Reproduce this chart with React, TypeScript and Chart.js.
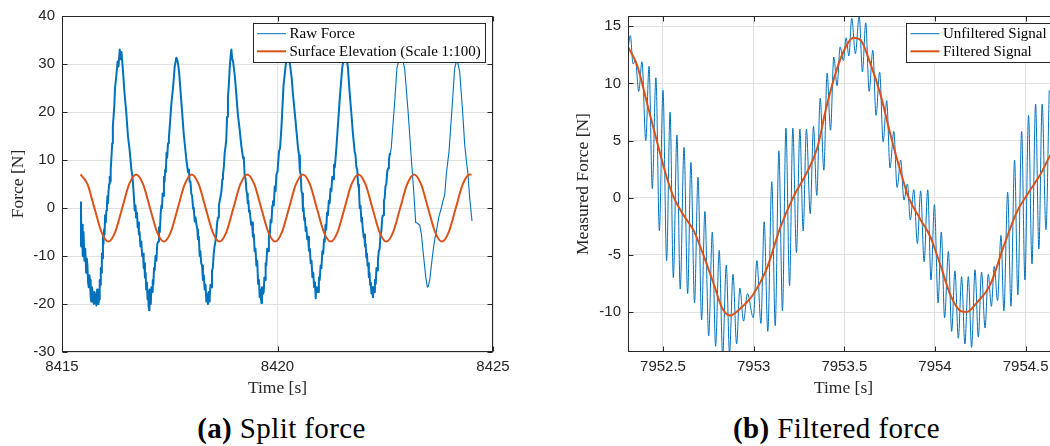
import React, { useEffect, useRef } from 'react';
import { Chart, registerables } from 'chart.js';

Chart.register(...registerables);

// ---------- (a) Split force ----------
const rawTime = [
  // start -> first trough
  8415.430, 8415.440, 8415.450, 8415.465, 8415.480, 8415.500, 8415.520, 8415.540, 8415.560, 8415.575,
  8415.590, 8415.605, 8415.620, 8415.635, 8415.650, 8415.665, 8415.680, 8415.695, 8415.710, 8415.725,
  8415.740, 8415.755, 8415.770, 8415.785, 8415.800, 8415.815, 8415.830, 8415.845, 8415.860, 8415.870,
  8415.880,
  // rise 1
  8415.890, 8415.900, 8415.912, 8415.925, 8415.937, 8415.950, 8415.962, 8415.975, 8415.987, 8416.000,
  8416.015, 8416.030, 8416.042, 8416.055, 8416.067, 8416.080, 8416.093, 8416.107, 8416.120, 8416.130,
  8416.150, 8416.165, 8416.180, 8416.200, 8416.215, 8416.230, 8416.260, 8416.290, 8416.310, 8416.340,
  8416.360, 8416.380,
  // fall 1, rise 2
  8416.415, 8416.450, 8416.490, 8416.530, 8416.570, 8416.610, 8416.635, 8416.660, 8416.687, 8416.705,
  8416.720, 8416.740, 8416.755, 8416.770, 8416.785, 8416.800, 8416.820, 8416.840, 8416.860, 8416.880,
  8416.895, 8416.910, 8416.925, 8416.940, 8416.955, 8416.970, 8416.985, 8417.000, 8417.010, 8417.020,
  8417.030, 8417.045, 8417.060, 8417.075, 8417.090, 8417.105, 8417.120, 8417.135, 8417.150, 8417.170,
  8417.190, 8417.210, 8417.230, 8417.250, 8417.270, 8417.290, 8417.306, 8417.320, 8417.335, 8417.350,
  8417.365, 8417.380, 8417.395, 8417.410, 8417.425, 8417.440, 8417.460, 8417.480, 8417.500, 8417.540,
  8417.576, 8417.615, 8417.654, 8417.685, 8417.715,
  // fall 2, rise 3
  8417.770, 8417.824, 8417.886, 8417.924, 8417.945, 8417.960, 8417.980, 8418.000, 8418.020, 8418.040,
  8418.060, 8418.080, 8418.100, 8418.120, 8418.140, 8418.155, 8418.175, 8418.195, 8418.210, 8418.230,
  8418.250, 8418.270, 8418.290, 8418.310, 8418.330, 8418.350, 8418.370, 8418.387, 8418.400, 8418.415,
  8418.427, 8418.445, 8418.460, 8418.480, 8418.500, 8418.520, 8418.540, 8418.560, 8418.580, 8418.600,
  8418.620, 8418.640, 8418.660, 8418.680, 8418.700, 8418.720, 8418.735, 8418.755, 8418.775, 8418.790,
  8418.810, 8418.830, 8418.850, 8418.870, 8418.890, 8418.910, 8418.930, 8418.950, 8418.970,
  // fall 3, rise 4
  8419.010, 8419.046, 8419.080, 8419.120, 8419.160, 8419.200, 8419.220, 8419.240, 8419.260, 8419.280,
  8419.295, 8419.310, 8419.325, 8419.340, 8419.355, 8419.370, 8419.390, 8419.410, 8419.430, 8419.450,
  8419.470, 8419.490, 8419.510, 8419.530, 8419.550, 8419.570, 8419.587, 8419.600, 8419.626, 8419.640,
  8419.655, 8419.680, 8419.695, 8419.710, 8419.725, 8419.740, 8419.760, 8419.780, 8419.800, 8419.820,
  8419.840, 8419.860, 8419.880, 8419.895, 8419.915, 8419.935, 8419.955, 8419.975, 8420.000, 8420.035,
  8420.060, 8420.090, 8420.140, 8420.200, 8420.250,
  // fall 4, rise 5
  8420.296, 8420.330, 8420.360, 8420.420, 8420.476, 8420.500, 8420.520, 8420.540, 8420.555, 8420.575,
  8420.590, 8420.605, 8420.620, 8420.635, 8420.654, 8420.670, 8420.690, 8420.710, 8420.730, 8420.750,
  8420.770, 8420.790, 8420.810, 8420.830, 8420.850, 8420.870, 8420.886, 8420.900, 8420.915, 8420.940,
  8420.960, 8420.980, 8421.000, 8421.020, 8421.040, 8421.060, 8421.080, 8421.095, 8421.115, 8421.130,
  8421.150, 8421.170, 8421.190, 8421.210, 8421.230, 8421.250, 8421.270, 8421.290, 8421.310, 8421.330,
  8421.366, 8421.400, 8421.440, 8421.500, 8421.560,
  // fall 5, rise 6
  8421.600, 8421.636, 8421.670, 8421.710, 8421.750, 8421.790, 8421.810, 8421.830, 8421.850, 8421.870,
  8421.890, 8421.907, 8421.925, 8421.947, 8421.960, 8421.975, 8422.000, 8422.015, 8422.030, 8422.045,
  8422.060, 8422.075, 8422.090, 8422.105, 8422.120, 8422.135, 8422.150, 8422.165, 8422.180, 8422.200,
  8422.215, 8422.230, 8422.245, 8422.260, 8422.280, 8422.295, 8422.310, 8422.330, 8422.350, 8422.370,
  8422.390, 8422.410, 8422.430, 8422.450, 8422.470, 8422.487, 8422.505, 8422.525, 8422.545, 8422.565,
  8422.585, 8422.600, 8422.620,
  // clean tail
  8422.640, 8422.680, 8422.720, 8422.770, 8422.840, 8422.900, 8422.950, 8423.030, 8423.107, 8423.160,
  8423.206, 8423.250, 8423.300, 8423.340, 8423.376, 8423.410, 8423.440, 8423.478, 8423.500, 8423.530,
  8423.570, 8423.610, 8423.650, 8423.687, 8423.740, 8423.800, 8423.840, 8423.880, 8423.920, 8423.980,
  8424.020, 8424.060, 8424.110, 8424.165, 8424.227, 8424.290, 8424.343, 8424.380, 8424.420, 8424.459,
  8424.513,
];
const rawForce = [
  // start -> first trough
  -8.0, 1.2, -7.5, -3.5, -10.0, -5.0, -11.0, -8.5, -13.5, -10.5,
  -12.0, -15.5, -16.5, -14.0, -15.0, -18.5, -19.5, -16.5, -17.5, -19.5,
  -20.0, -17.5, -18.0, -19.8, -20.3, -17.0, -17.5, -20.0, -19.0, -16.5,
  -15.0,
  // rise 1
  -16.0, -12.5, -13.5, -9.5, -10.5, -6.0, -7.5, -4.5, -5.5, -1.5,
  -3.0, -0.5, 0.5, 2.5, 1.0, 3.5, 5.0, 6.5, 5.5, 8.0,
  11.0, 13.5, 17.0, 19.5, 21.5, 25.0, 27.5, 30.5, 29.5, 33.0,
  31.0, 32.5,
  // fall 1, rise 2
  28.5, 24.0, 20.0, 15.0, 12.0, 8.0, 6.5, 3.5, -0.5, 0.5,
  -2.0, -1.0, -4.0, -3.0, -5.5, -5.0, -8.0, -7.0, -10.0, -9.5,
  -12.5, -11.5, -14.5, -13.5, -17.0, -15.5, -19.0, -17.5, -20.5, -21.3,
  -17.0, -19.5, -20.0, -16.5, -17.5, -15.0, -16.0, -12.5, -13.0, -10.0,
  -11.0, -7.5, -7.0, -4.0, -5.0, -1.0, 0.5, 0.0, 3.0, 2.5,
  6.5, 5.5, 8.0, 7.5, 11.5, 10.5, 13.5, 14.5, 17.0, 22.0,
  25.0, 29.5, 31.3, 30.5, 28.5,
  // fall 2, rise 3
  22.0, 15.5, 10.0, 7.5, 8.0, 5.5, 5.5, 3.0, 2.5, 0.0,
  -0.5, -2.8, -2.0, -3.5, -4.5, -6.5, -6.0, -10.0, -9.0, -11.5,
  -12.0, -15.0, -14.0, -17.0, -16.0, -19.5, -18.0, -20.0, -17.5, -19.5,
  -18.5, -16.0, -16.5, -13.0, -12.5, -9.5, -8.0, -7.0, -5.5, -3.0,
  -2.0, 0.5, 1.5, 2.5, 3.5, 6.0, 7.0, 8.5, 11.5, 12.5,
  14.0, 19.0, 23.0, 25.5, 29.0, 31.5, 33.0, 31.0, 30.5,
  // fall 3, rise 4
  27.5, 23.5, 19.5, 16.5, 13.0, 10.5, 10.0, 6.5, 6.0, 3.5,
  3.0, 1.0, 1.5, -0.8, -0.5, -2.0, -3.5, -3.0, -6.0, -5.5,
  -9.0, -8.5, -12.0, -11.0, -15.8, -15.0, -18.6, -17.0, -19.8, -16.5,
  -18.0, -17.5, -14.5, -15.0, -11.5, -12.0, -8.5, -9.0, -5.5, -6.0,
  -2.5, -3.0, 0.5, 1.4, 0.5, 4.5, 3.5, 7.0, 7.5, 11.8,
  12.5, 16.6, 25.6, 30.5, 32.0,
  // fall 4, rise 5
  29.5, 27.0, 23.6, 18.0, 12.5, 11.0, 7.5, 7.0, 3.5, 3.0,
  -0.6, 0.0, -2.5, -2.0, -4.8, -4.0, -6.5, -6.0, -8.9, -8.5,
  -11.5, -11.0, -14.4, -13.5, -16.5, -15.5, -18.8, -16.5, -17.5, -17.5,
  -14.5, -15.0, -12.0, -12.5, -9.0, -9.5, -6.5, -7.0, -3.5, -4.5,
  -1.0, -1.5, 1.5, 1.0, 4.0, 3.5, 6.5, 6.0, 9.0, 8.5,
  12.5, 17.0, 22.2, 29.1, 32.5,
  // fall 5, rise 6
  31.5, 29.1, 24.5, 20.1, 15.5, 11.8, 11.0, 8.5, 8.0, 4.9,
  4.0, 0.0, 0.5, -2.8, -2.0, -4.0, -6.1, -5.5, -8.0, -7.5,
  -10.3, -9.5, -12.0, -11.5, -14.4, -13.5, -16.0, -15.5, -17.8, -16.5,
  -18.6, -16.5, -17.5, -15.0, -15.8, -12.5, -13.0, -11.0, -9.0, -8.5,
  -5.5, -4.8, -2.0, -1.5, 1.5, 2.1, 4.5, 5.0, 7.5, 8.3,
  10.0, 11.0, 11.5,
  // clean tail
  12.5, 17.5, 22.2, 29.1, 32.0, 31.0, 29.1, 20.1, 10.0, 3.5,
  -3.0, -3.2, -3.6, -5.5, -8.9, -11.8, -14.4, -16.5, -16.3, -15.1,
  -12.0, -8.9, -6.5, -4.8, -2.0, 0.0, 1.5, 2.8, 7.3, 11.8,
  17.0, 22.2, 29.1, 31.0, 28.4, 20.8, 13.2, 10.0, 7.0, 2.1,
  -2.7,
];
const NOISY_UNTIL = 8422.62;

const elevTime = [
  8415.430, 8415.591, 8415.752, 8415.914, 8416.075, 8416.236, 8416.397, 8416.559,
  8416.720, 8416.881, 8417.042, 8417.204, 8417.365, 8417.526, 8417.687, 8417.849,
  8418.010, 8418.171, 8418.332, 8418.494, 8418.655, 8418.816, 8418.977, 8419.139,
  8419.300, 8419.461, 8419.622, 8419.784, 8419.945, 8420.106, 8420.267, 8420.429,
  8420.590, 8420.751, 8420.912, 8421.074, 8421.235, 8421.396, 8421.557, 8421.719,
  8421.880, 8422.041, 8422.202, 8422.364, 8422.525, 8422.686, 8422.847, 8423.009,
  8423.170, 8423.331, 8423.492, 8423.654, 8423.815, 8423.976, 8424.137, 8424.299,
  8424.460, 8424.500,
];
const elevation = [
  7, 4.95, 0, -4.95, -7, -4.95, 0, 4.95,
  7, 4.95, 0, -4.95, -7, -4.95, 0, 4.95,
  7, 4.95, 0, -4.95, -7, -4.95, 0, 4.95,
  7, 4.95, 0, -4.95, -7, -4.95, 0, 4.95,
  7, 4.95, 0, -4.95, -7, -4.95, 0, 4.95,
  7, 4.95, 0, -4.95, -7, -4.95, 0, 4.95,
  7, 4.95, 0, -4.95, -7, -4.95, 0, 4.95,
  7, 6.95,
];
const xTicksA = [8415, 8420, 8425];
const yTicksA = [-30, -20, -10, 0, 10, 20, 30, 40];

// ---------- (b) Filtered force ----------
const unfTime = [
  7952.307, 7952.320, 7952.335, 7952.348, 7952.366, 7952.384, 7952.405, 7952.423, 7952.441, 7952.461,
  7952.480, 7952.500, 7952.520, 7952.539, 7952.557, 7952.577, 7952.595, 7952.616, 7952.636, 7952.654,
  7952.674, 7952.693, 7952.713, 7952.731, 7952.752, 7952.772, 7952.790, 7952.810, 7952.829, 7952.849,
  7952.867, 7952.886, 7952.906, 7952.924, 7952.944, 7952.966, 7952.998, 7953.018, 7953.040, 7953.058,
  7953.078, 7953.100, 7953.119, 7953.139, 7953.159, 7953.178, 7953.198, 7953.216, 7953.236, 7953.255,
  7953.273, 7953.291, 7953.312, 7953.330, 7953.348, 7953.367, 7953.387, 7953.405, 7953.424, 7953.442,
  7953.460, 7953.477, 7953.495, 7953.510, 7953.525, 7953.541, 7953.561, 7953.582, 7953.600, 7953.618,
  7953.637, 7953.657, 7953.675, 7953.695, 7953.714, 7953.734, 7953.752, 7953.773, 7953.791, 7953.811,
  7953.829, 7953.848, 7953.864, 7953.883, 7953.903, 7953.921, 7953.940, 7953.960, 7953.978, 7953.997,
  7954.017, 7954.035, 7954.053, 7954.074, 7954.092, 7954.110, 7954.129, 7954.147, 7954.165, 7954.184,
  7954.202, 7954.221, 7954.239, 7954.257, 7954.276, 7954.294, 7954.311, 7954.327, 7954.345, 7954.364,
  7954.380, 7954.401, 7954.419, 7954.439, 7954.457, 7954.478, 7954.496, 7954.516, 7954.535, 7954.555,
  7954.573, 7954.591, 7954.612, 7954.630,
];
const unfiltered = [
  13.0, 14.2, 11.7, 12.0, 9.3, 11.9, 5.0, 11.5, 0.8, 10.5,
  -2.9, 9.4, -5.5, 7.5, -7.0, 5.5, -8.0, 4.4, -8.4, 3.1,
  -9.2, 1.8, -10.7, -1.2, -12.1, -3.0, -13.0, -4.6, -13.8, -5.9,
  -13.6, -6.7, -12.8, -7.9, -10.8, -8.4, -10.5, -5.5, -11.0, -2.1,
  -11.7, 1.4, -11.2, 4.1, -9.9, 6.1, -7.7, 6.1, -4.8, 6.0,
  -2.9, 6.0, -1.4, 6.25, 0.2, 8.7, 2.4, 10.9, 5.9, 12.3,
  9.8, 13.2, 12.0, 14.0, 12.4, 15.7, 12.6, 15.9, 11.0, 15.3,
  9.3, 12.9, 7.2, 11.0, 4.9, 8.5, 2.6, 5.8, 0.9, 3.3,
  -0.2, 1.2, -1.95, 0.7, -4.0, 0.6, -5.6, 0.7, -7.2, -0.6,
  -9.2, -3.0, -10.5, -4.7, -11.7, -6.4, -12.3, -6.9, -12.8, -6.9,
  -13.1, -6.3, -12.2, -6.5, -11.4, -6.7, -9.5, -6.0, -9.0, -3.3,
  -9.9, 0.5, -9.5, 3.3, -8.5, 5.8, -7.2, 7.2, -5.8, 8.2,
  -4.5, 8.2, -2.8, 9.4,
];
const filtTime = [
  7952.307, 7952.357, 7952.410, 7952.467, 7952.522, 7952.560, 7952.610, 7952.670, 7952.720, 7952.780,
  7952.825, 7952.870, 7952.926, 7953.000, 7953.070, 7953.147, 7953.220, 7953.290, 7953.350, 7953.400,
  7953.460, 7953.515, 7953.550, 7953.590, 7953.640, 7953.700, 7953.750, 7953.810, 7953.855, 7953.920,
  7953.974, 7954.030, 7954.085, 7954.140, 7954.176, 7954.230, 7954.305, 7954.380, 7954.450, 7954.510,
  7954.580, 7954.640, 7954.684,
];
const filtered = [
  13.2, 11.6, 8.4, 4.9, 1.7, 0.0, -1.45, -2.9, -4.9, -7.55,
  -9.6, -10.3, -9.7, -8.4, -6.3, -2.6, 0.1, 2.1, 4.3, 7.85,
  11.3, 13.4, 14.0, 13.8, 11.9, 9.0, 5.8, 2.3, 0.0, -1.9,
  -3.4, -5.9, -8.5, -9.9, -10.0, -9.2, -7.6, -4.2, -1.3, 0.3,
  2.0, 3.8, 4.6,
];
const xTicksB = [7952.5, 7953, 7953.5, 7954, 7954.5];
const yTicksB = [-10, -5, 0, 5, 10, 15];

// ---------- styling ----------
const BLUE = '#0072BD';
const ORANGE = '#D95319';
const AXIS = '#262626';
const GRID = '#e2e2e2';
const SANS = "'Liberation Sans', Arial, Helvetica, sans-serif";
const SERIF = "'Liberation Serif', 'Times New Roman', serif";

const zip = (xs: number[], ys: number[]) =>
  xs.slice(0, Math.min(xs.length, ys.length)).map((x, i) => ({ x, y: ys[i] }));

const matlabBox = {
  id: 'matlabBox',
  afterDraw(chart: any, _args: any, opts: any) {
    const { ctx, chartArea: a, scales } = chart;
    ctx.save();
    const items = opts && opts.items ? opts.items : [];
    if (items.length) {
      ctx.font = `15px ${SERIF}`;
      const tw = Math.max(...items.map((it: any) => ctx.measureText(it.label).width));
      const padRight = opts.padRight ?? 4;
      const inset = opts.rightInset ?? 8.3;
      const w = 4.3 + 29 + 3.5 + tw + padRight;
      const h = 39;
      const right = a.right - inset;
      const left = right - w;
      const top = a.top + 7.3;
      ctx.fillStyle = '#ffffff';
      ctx.fillRect(left, top, w, h);
      ctx.strokeStyle = AXIS;
      ctx.lineWidth = 1;
      ctx.strokeRect(Math.round(left) + 0.5, Math.round(top) + 0.5, Math.round(w), Math.round(h));
      items.forEach((it: any, i: number) => {
        const cy = top + 10.4 + i * 17.6;
        ctx.beginPath();
        ctx.strokeStyle = it.color;
        ctx.lineWidth = it.width;
        ctx.moveTo(left + 4.3, cy);
        ctx.lineTo(left + 33.3, cy);
        ctx.stroke();
        ctx.fillStyle = '#000000';
        ctx.textBaseline = 'middle';
        ctx.textAlign = 'left';
        ctx.fillText(it.label, left + 36.8, cy + 0.5);
      });
    }
    const L = Math.round(a.left) + 0.5;
    const T = Math.round(a.top) + 0.5;
    const R = Math.round(a.right) - 0.5;
    const B = Math.round(a.bottom) - 0.5;
    ctx.strokeStyle = AXIS;
    ctx.lineWidth = 1;
    ctx.strokeRect(L, T, R - L, B - T);
    const tl = 5;
    ctx.beginPath();
    scales.x.ticks.forEach((t: any) => {
      const px = Math.round(scales.x.getPixelForValue(t.value)) + 0.5;
      ctx.moveTo(px, B);
      ctx.lineTo(px, B - tl);
      ctx.moveTo(px, T);
      ctx.lineTo(px, T + tl);
    });
    scales.y.ticks.forEach((t: any) => {
      const py = Math.round(scales.y.getPixelForValue(t.value)) + 0.5;
      ctx.moveTo(L, py);
      ctx.lineTo(L + tl, py);
      ctx.moveTo(R, py);
      ctx.lineTo(R - tl, py);
    });
    ctx.stroke();
    ctx.restore();
  },
};

type AxisSpec = {
  xMin: number; xMax: number; yMin: number; yMax: number;
  xTicks: number[]; yTicks: number[];
  xTitle: string; yTitle: string;
  yAxisW: number; padR: number; yTitlePad: number;
};

function makeOptions(s: AxisSpec, legend: any) {
  const tickFont = { family: SANS, size: 15 };
  const titleFont = { family: SERIF, size: 17.5 };
  return {
    responsive: false,
    animation: false,
    events: [],
    layout: { padding: { left: 0, top: 14, right: s.padR, bottom: 0 } },
    plugins: {
      legend: { display: false },
      tooltip: { enabled: false },
      title: { display: false },
      matlabBox: legend,
    },
    elements: { point: { radius: 0 } },
    scales: {
      x: {
        type: 'linear',
        min: s.xMin,
        max: s.xMax,
        afterBuildTicks: (sc: any) => { sc.ticks = s.xTicks.map((v) => ({ value: v })); },
        afterFit: (sc: any) => { sc.height = 48; },
        grid: { color: GRID, drawTicks: false, lineWidth: 1 },
        border: { display: false },
        ticks: {
          color: AXIS, font: tickFont, padding: 6, maxRotation: 0, autoSkip: false,
          callback: (v: any) => String(v),
        },
        title: { display: true, text: s.xTitle, color: AXIS, font: titleFont, padding: { top: 0, bottom: 1.5 } },
      },
      y: {
        type: 'linear',
        min: s.yMin,
        max: s.yMax,
        afterBuildTicks: (sc: any) => { sc.ticks = s.yTicks.map((v) => ({ value: v })); },
        afterFit: (sc: any) => { sc.width = s.yAxisW; },
        grid: { color: GRID, drawTicks: false, lineWidth: 1 },
        border: { display: false },
        ticks: {
          color: AXIS, font: tickFont, padding: 7, autoSkip: false,
          callback: (v: any) => String(v),
        },
        title: { display: true, text: s.yTitle, color: AXIS, font: titleFont, padding: { top: s.yTitlePad, bottom: 0 } },
      },
    },
  };
}

function PlotCanvas({ config, left, width, height }: { config: any; left: number; width: number; height: number }) {
  const ref = useRef<HTMLCanvasElement>(null);
  useEffect(() => {
    if (!ref.current) return;
    const chart = new Chart(ref.current, config);
    return () => chart.destroy();
  }, []);
  return (
    <canvas
      ref={ref}
      width={width}
      height={height}
      style={{ position: 'absolute', left, top: 0, width, height, display: 'block' }}
    />
  );
}

const configA = {
  type: 'line',
  data: {
    datasets: [
      {
        label: 'Raw Force',
        data: zip(rawTime, rawForce),
        borderColor: BLUE,
        borderWidth: 1.1,
        tension: 0,
        order: 1,
        borderJoinStyle: 'round',
        segment: {
          borderWidth: (ctx: any) => (ctx.p0.parsed.x < NOISY_UNTIL ? 2.0 : 1.1),
        },
      },
      {
        label: 'Surface Elevation (Scale 1:100)',
        data: zip(elevTime, elevation),
        borderColor: ORANGE,
        borderWidth: 2,
        cubicInterpolationMode: 'monotone',
        order: 0,
      },
    ],
  },
  options: makeOptions(
    {
      xMin: 8415, xMax: 8425, yMin: -30, yMax: 40,
      xTicks: xTicksA, yTicks: yTicksA,
      xTitle: 'Time [s]', yTitle: 'Force [N]',
      yAxisW: 62, padR: 27, yTitlePad: 7.5,
    },
    {
      items: [
        { label: 'Raw Force', color: BLUE, width: 1 },
        { label: 'Surface Elevation (Scale 1:100)', color: ORANGE, width: 2 },
      ],
    },
  ),
  plugins: [matlabBox],
};

const configB = {
  type: 'line',
  data: {
    datasets: [
      {
        label: 'Unfiltered Signal',
        data: zip(unfTime, unfiltered),
        borderColor: BLUE,
        borderWidth: 1,
        cubicInterpolationMode: 'monotone',
        order: 1,
      },
      {
        label: 'Filtered Signal',
        data: zip(filtTime, filtered),
        borderColor: ORANGE,
        borderWidth: 2,
        cubicInterpolationMode: 'monotone',
        order: 0,
      },
    ],
  },
  options: makeOptions(
    {
      xMin: 7952.307, xMax: 7954.684, yMin: -13.5, yMax: 15.9,
      xTicks: xTicksB, yTicks: yTicksB,
      xTitle: 'Time [s]', yTitle: 'Measured Force [N]',
      yAxisW: 88, padR: 11, yTitlePad: 32.5,
    },
    {
      rightInset: 4.3,
      padRight: 8,
      items: [
        { label: 'Unfiltered Signal', color: BLUE, width: 1 },
        { label: 'Filtered Signal', color: ORANGE, width: 2 },
      ],
    },
  ),
  plugins: [matlabBox],
};

const captionStyle: React.CSSProperties = {
  position: 'absolute',
  top: 412,
  width: 400,
  textAlign: 'center',
  fontFamily: SERIF,
  fontSize: 29,
  letterSpacing: '0.4px',
  lineHeight: '32px',
  color: '#000',
  whiteSpace: 'nowrap',
};

export default function App() {
  return (
    <div
      style={{
        position: 'fixed', left: 0, top: 0, width: 1050, height: 446,
        overflow: 'hidden', background: '#ffffff',
      }}
    >
      <PlotCanvas config={configA} left={0} width={520} height={400} />
      <PlotCanvas config={configB} left={540} width={530} height={400} />
      <div style={{ ...captionStyle, left: 81.5 }}>
        <b>(a)</b> Split force
      </div>
      <div style={{ ...captionStyle, left: 636.5 }}>
        <b>(b)</b> Filtered force
      </div>
    </div>
  );
}
